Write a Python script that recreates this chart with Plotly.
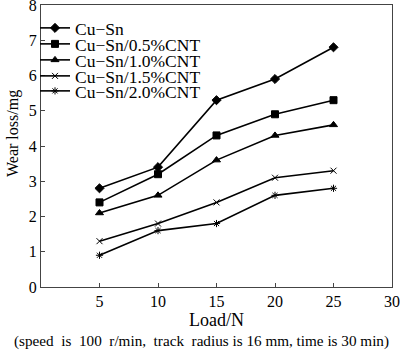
import plotly.graph_objects as go

loads = [5, 10, 15, 20, 25]
names = ["Cu\u2212Sn", "Cu\u2212Sn/0.5%CNT", "Cu\u2212Sn/1.0%CNT", "Cu\u2212Sn/1.5%CNT", "Cu\u2212Sn/2.0%CNT"]
cu_sn = [2.8, 3.4, 5.3, 5.9, 6.8]
cnt05 = [2.4, 3.2, 4.3, 4.9, 5.3]
cnt10 = [2.1, 2.6, 3.6, 4.3, 4.6]
cnt15 = [1.3, 1.8, 2.4, 3.1, 3.3]
cnt20 = [0.9, 1.6, 1.8, 2.6, 2.8]
series = [cu_sn, cnt05, cnt10, cnt15, cnt20]
symbols = ["diamond", "square", "triangle-up", "x-thin-open", "asterisk-open"]
sizes = [7, 7, 7, 6, 6]

x_ticks = [5, 10, 15, 20, 25, 30]
y_ticks = [0, 1, 2, 3, 4, 5, 6, 7, 8]

font = "Liberation Serif, Times New Roman, serif"

# layout geometry (pixels)
W, H = 400, 354
ML, MR, MT, MB = 41, 8, 5, 67
PW, PH = W - ML - MR, H - MT - MB
plot_bottom = H - MB

fig = go.Figure()
legend_keys = ["legend2", "legend3", "legend4", "legend5", "legend6"]
legend_rows_px = [28, 44, 60, 76, 91]
for n, s, sym, sz, lk in zip(names, series, symbols, sizes, legend_keys):
    fig.add_trace(go.Scatter(
        x=loads, y=s, name=n, mode="lines+markers", legend=lk,
        line=dict(color="black", width=1.6),
        marker=dict(symbol=sym, size=sz, color="black", line=dict(color="black", width=1)),
    ))

axis_common = dict(showline=True, linecolor="#444", linewidth=1, mirror=True,
                   showgrid=False, zeroline=False, ticks="inside", ticklen=4,
                   tickcolor="#444", ticklabeloverflow="allow",
                   tickfont=dict(size=16, color="black", family=font))

legends = {}
for lk, ypx in zip(legend_keys, legend_rows_px):
    legends[lk] = dict(x=35 / W, xref="container", y=1 - ypx / H, yref="container",
                       xanchor="left", yanchor="middle",
                       bgcolor="rgba(0,0,0,0)", borderwidth=0,
                       font=dict(size=17.5, family=font, color="black"),
                       itemwidth=30)

fig.update_layout(
    width=W, height=H,
    margin=dict(l=ML, r=MR, t=MT, b=MB, autoexpand=False),
    plot_bgcolor="white", paper_bgcolor="white",
    font=dict(family=font, color="black"),
    xaxis=dict(range=[0, 30], tickvals=x_ticks,
               title=dict(text="Load/N", font=dict(size=18), standoff=4), **axis_common),
    yaxis=dict(range=[0, 8], tickvals=y_ticks, **axis_common),
    showlegend=True,
    **legends,
)
fig.add_annotation(text="Wear loss/mg", textangle=-90,
                   xref="paper", yref="paper", x=(13 - ML) / PW, y=(plot_bottom - 134) / PH,
                   xanchor="center", yanchor="middle", showarrow=False,
                   font=dict(size=16, family=font, color="black"))
fig.add_annotation(text="(speed  is  100  r/min,  track  radius is 16 mm, time is 30 min)",
                   xref="paper", yref="paper", x=(201 - ML) / PW, y=-(341 - plot_bottom) / PH,
                   xanchor="center", yanchor="middle", showarrow=False,
                   font=dict(size=15.2, family=font, color="black"))

fig.write_html("out.html")
